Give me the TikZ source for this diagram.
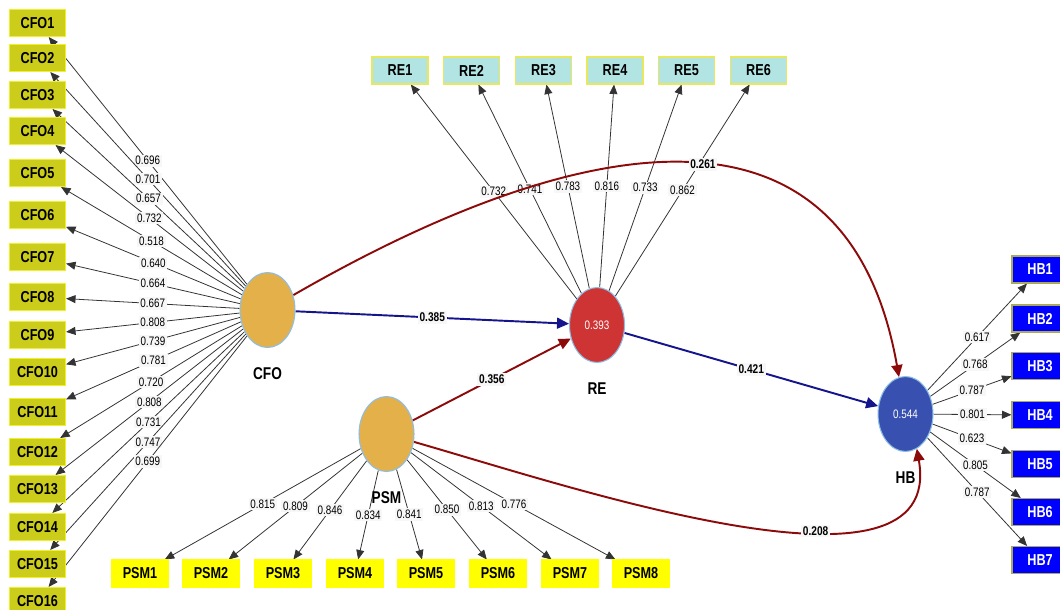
\documentclass[tikz,border=0pt]{standalone}
\usepackage{fontspec}
\newfontfamily\narrowsf[FakeStretch=0.8]{Liberation Sans}
\usetikzlibrary{arrows.meta,positioning,shapes.geometric,backgrounds}

\definecolor{lvorange}{RGB}{228,176,74}
\definecolor{lvred}{RGB}{207,52,52}
\definecolor{lvblue}{RGB}{56,80,176}
\definecolor{lvrim}{RGB}{140,190,230}
\definecolor{cfofill}{RGB}{204,204,26}
\definecolor{cforim}{RGB}{240,240,40}
\definecolor{refill}{RGB}{178,228,228}
\definecolor{rerim}{RGB}{232,232,90}
\definecolor{psmfill}{RGB}{255,255,0}
\definecolor{hbfill}{RGB}{0,0,255}
\definecolor{hbrim}{RGB}{170,170,90}
\definecolor{pathblue}{RGB}{20,20,140}
\definecolor{pathred}{RGB}{140,10,10}

\tikzset{
  lv/.style={ellipse, draw=lvrim, line width=0.6pt, minimum width=1.1cm,
    minimum height=1.5cm, inner sep=0pt, text=white,
    font=\narrowsf\fontsize{7}{8}\selectfont},
  conlab/.style={font=\narrowsf\bfseries\fontsize{9.7}{11}\selectfont},
  ind/.style={rectangle, minimum width=1.12cm, minimum height=0.54cm,
    inner sep=0pt, line width=0.6pt,
    font=\narrowsf\bfseries\fontsize{9}{10}\selectfont},
  indcfo/.style={ind, fill=cfofill, draw=cforim},
  indre/.style={ind, fill=refill, draw=rerim},
  indpsm/.style={ind, fill=psmfill, draw=psmfill},
  indhb/.style={ind, fill=hbfill, draw=hbrim, text=white},
  load/.style={draw=black!80, line width=0.45pt,
    -{Triangle[length=1.9mm,width=1.6mm]}},
  lbl/.style={font=\narrowsf\fontsize{7}{8}\selectfont, fill=black!3,
    inner sep=1pt},
  effblue/.style={draw=pathblue, line width=1.1pt,
    -{Triangle[length=2.4mm,width=2.2mm]}},
  effred/.style={draw=pathred, line width=1.1pt,
    -{Triangle[length=2.4mm,width=2.2mm]}},
  plbl/.style={font=\narrowsf\bfseries\fontsize{7.2}{8}\selectfont,
    fill=black!3, inner sep=1pt},
}

\begin{document}
\begin{tikzpicture}[x=0.02cm, y=-0.02cm]
  \useasboundingbox (0,0) rectangle (1060,609);

  % latent variables
  \node[lv, fill=lvorange] (cfo) at (267.5,310) {};
  \node[lv, fill=lvred]    (re)  at (597,325)   {0.393};
  \node[lv, fill=lvorange] (psm) at (386.5,434) {};
  \node[lv, fill=lvblue]   (hb)  at (905.5,414) {0.544};
  \node[conlab, below=2.65mm of cfo] (cfot) {CFO};
  \node[conlab, below=2.65mm of re]  (ret)  {RE};
  \node[conlab, below=2.65mm of psm] (psmt) {PSM};
  \node[conlab, below=2.65mm of hb]  (hbt)  {HB};

  % indicators
  \foreach \y [count=\i] in {23,58,95,131,173,215,257,297,335,372,412,452,489,527,564,601}
    \node[indcfo] (cfo\i) at (37.5,\y) {CFO\i};
  \foreach \x [count=\i] in {400,471.5,543.5,615,686.5,758.5}
    \node[indre] (re\i) at (\x,70.5) {RE\i};
  \foreach \x [count=\i] in {140,211,283,355,426,498,570,641}
    \node[indpsm] (psm\i) at (\x,573.5) {PSM\i};
  \foreach \y [count=\i] in {269.5,318.5,366,415,464,512,560}
    \node[indhb] (hb\i) at (1040,\y) {HB\i};

  \begin{scope}[on background layer]
    % outer loadings
    \foreach \w [count=\i] in {0.696,0.701,0.657,0.732,0.518,0.640,0.664,0.667,0.808,0.739,0.781,0.720,0.808,0.731,0.747,0.699}
      \draw[load] (cfo) -- node[lbl] {\w} (cfo\i);
    \foreach \w [count=\i] in {0.732,0.741,0.783,0.816,0.733,0.862}
      \draw[load] (re) -- node[lbl] {\w} (re\i);
    \foreach \w [count=\i] in {0.815,0.809,0.846,0.834,0.841,0.850,0.813,0.776}
      \draw[load] (psm) -- node[lbl] {\w} (psm\i);
    \foreach \w [count=\i] in {0.617,0.768,0.787,0.801,0.623,0.805,0.787}
      \draw[load] (hb) -- node[lbl] {\w} (hb\i);

    % path coefficients
    \draw[effblue] (cfo) -- node[plbl] {0.385} (re);
    \draw[effred]  (psm) -- node[plbl] {0.356} (re);
    \draw[effblue] (re)  -- node[plbl] {0.421} (hb);
    \draw[effred]  (cfo) to[out=30, in=100, looseness=1.3]
      node[plbl, pos=0.54] {0.261} (hb);
    \draw[effred]  (psm) to[out=-16, in=-80, looseness=0.85]
      node[plbl, pos=0.63] {0.208} (hb.-72);
  \end{scope}
\end{tikzpicture}
\end{document}
